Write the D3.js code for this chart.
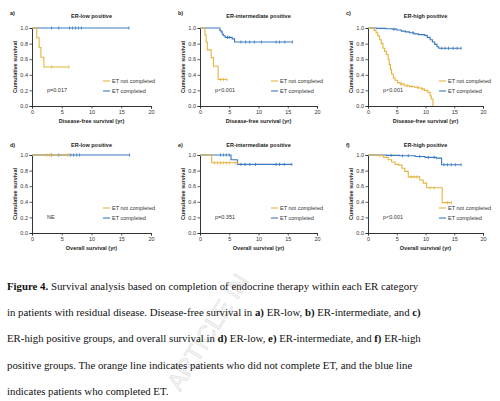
<!DOCTYPE html>
<html>
<head>
<meta charset="utf-8">
<script src="https://cdn.jsdelivr.net/npm/d3@7"></script>
<style>
  body { margin: 0; background: #fff; }
  svg { display: block; }
</style>
</head>
<body>
<div id="plot"></div>
<script>
// Axis ticks and labels
var xTicks = [0, 5, 10, 15, 20];
var yTicks = [0, 0.2, 0.4, 0.6, 0.8, 1.0];
var panelLabels = ["a)", "b)", "c)", "d)", "e)", "f)"];
var panelTitles = ["ER-low positive", "ER-intermediate positive", "ER-high positive",
                   "ER-low positive", "ER-intermediate positive", "ER-high positive"];
var xLabels = ["Disease-free survival (yr)", "Disease-free survival (yr)", "Disease-free survival (yr)",
               "Overall survival (yr)", "Overall survival (yr)", "Overall survival (yr)"];
var pValues = ["p=0.017", "p<0.001", "p<0.001", "NE", "p=0.351", "p<0.001"];
var seriesNames = ["ET not completed", "ET completed"];

// Kaplan-Meier steps: time (yr), survival, censor times
// a) DFS ER-low
var aNotT = [0, 0.8, 1.2, 1.5, 2.0, 6.2];
var aNotS = [1, 0.875, 0.75, 0.625, 0.5, 0.5];
var aNotC = [3.3, 6.2];
var aDoneT = [0, 16.3];
var aDoneS = [1, 1];
var aDoneC = [3.3, 4.5, 6.3, 6.8, 7.3, 7.8, 8.3, 16.3];
// b) DFS ER-intermediate
var bNotT = [0, 0.85, 1.05, 1.25, 1.9, 2.3, 3.1, 4.6];
var bNotS = [1, 0.91, 0.82, 0.72, 0.62, 0.51, 0.34, 0.34];
var bNotC = [3.5, 4.0, 4.6];
var bDoneT = [0, 3.4, 3.6, 3.8, 4.0, 4.3, 5.5, 5.9, 15.8];
var bDoneS = [1, 0.97, 0.95, 0.92, 0.90, 0.88, 0.86, 0.82, 0.82];
var bDoneC = [4.7, 5.0, 7.0, 7.8, 8.5, 9.3, 10.5, 13.0, 13.6, 14.5, 15.8];
// c) DFS ER-high
var cNotT = [0, 0.8, 1.1, 1.4, 1.7, 2.0, 2.3, 2.6, 2.9, 3.2, 3.5, 3.7, 3.9, 4.1, 4.4, 4.7, 5.1, 5.6,
             6.3, 7.2, 8.1, 8.8, 9.3, 9.8, 10.4, 10.8, 11.0, 11.3];
var cNotS = [1, 0.99, 0.97, 0.94, 0.90, 0.85, 0.80, 0.74, 0.70, 0.66, 0.60, 0.53, 0.47, 0.41, 0.36, 0.33, 0.30, 0.28,
             0.26, 0.25, 0.24, 0.23, 0.22, 0.20, 0.175, 0.13, 0.09, 0.0];
var cNotC = [5.8, 6.8, 7.6, 8.6, 9.4];
var cDoneT = [0, 1.5, 3.0, 4.2, 5.0, 5.8, 6.5, 7.2, 8.0, 8.8, 9.8, 10.3, 10.8, 11.2, 11.6, 12.0, 12.3, 16.2];
var cDoneS = [1, 0.995, 0.99, 0.985, 0.975, 0.96, 0.95, 0.94, 0.925, 0.915, 0.905, 0.88, 0.85, 0.82, 0.79, 0.76, 0.74, 0.74];
var cDoneC = [4.5, 7.8, 12.8, 13.4, 14.0, 14.8, 15.5, 16.2];
// d) OS ER-low
var dNotT = [0, 6.2];
var dNotS = [1, 1];
var dNotC = [2.5, 3.0, 3.3, 6.0, 6.2];
var dDoneT = [0, 16.4];
var dDoneS = [1, 1];
var dDoneC = [3.3, 4.5, 6.5, 7.0, 7.5, 8.0, 16.4];
// e) OS ER-intermediate
var eNotT = [0, 2.0, 6.5];
var eNotS = [1, 0.9, 0.9];
var eNotC = [2.5, 3.0, 3.5, 4.0, 4.5, 5.0, 6.0, 6.5];
var eDoneT = [0, 5.3, 6.4, 15.7];
var eDoneS = [1, 0.94, 0.88, 0.88];
var eDoneC = [3.5, 4.0, 4.5, 5.0, 7.0, 7.7, 8.5, 9.5, 13.0, 13.6, 14.4, 15.7];
// f) OS ER-high
var fNotT = [0, 1.8, 2.7, 3.5, 4.1, 4.7, 5.3, 5.9, 6.4, 7.0, 9.0, 9.6, 10.2, 12.9, 14.5];
var fNotS = [1, 0.99, 0.97, 0.94, 0.91, 0.88, 0.87, 0.83, 0.79, 0.72, 0.68, 0.64, 0.58, 0.39, 0.39];
var fNotC = [7.5, 8.0, 8.5, 10.8, 11.5, 13.8, 14.5];
var fDoneT = [0, 3.2, 5.5, 8.2, 9.9, 11.9, 12.8, 16.2];
var fDoneS = [1, 0.995, 0.99, 0.98, 0.97, 0.96, 0.875, 0.875];
var fDoneC = [4.0, 6.0, 7.0, 9.0, 10.5, 11.5, 13.2, 13.8, 14.5, 15.2, 16.2];

var notData = [[aNotT, aNotS, aNotC], [bNotT, bNotS, bNotC], [cNotT, cNotS, cNotC],
               [dNotT, dNotS, dNotC], [eNotT, eNotS, eNotC], [fNotT, fNotS, fNotC]];
var doneData = [[aDoneT, aDoneS, aDoneC], [bDoneT, bDoneS, bDoneC], [cDoneT, cDoneS, cDoneC],
                [dDoneT, dDoneS, dDoneC], [eDoneT, eDoneS, eDoneC], [fDoneT, fDoneS, fDoneC]];

var orange = "#e6b33e", blue = "#3a78c2";

var svg = d3.select("#plot")
    .append("svg")
        .attr("width", 500)
        .attr("height", 401)
        .style("font-family", "Liberation Sans, Arial, sans-serif");

svg.append("rect").attr("width", 500).attr("height", 401).attr("fill", "#fff");

// Panel layout
var colLeft = [32, 200, 368];
var colWidth = [119, 117, 115];
var rowTop = [28, 155];
var plotH = 78;

function stepValue(ts, ss, t) {
    var v = ss[0];
    for (var i = 0; i < ts.length; i++) { if (ts[i] <= t) v = ss[i]; }
    return v;
}

panelTitles.forEach(function(title, i) {
    var col = i % 3, row = Math.floor(i / 3);
    var left = colLeft[col], top = rowTop[row], w = colWidth[col];
    var g = svg.append("g").attr("transform", "translate(" + left + "," + top + ")");

    var x = d3.scaleLinear().domain([0, 20]).range([0, w]);
    var y = d3.scaleLinear().domain([0, 1]).range([plotH, 0]);

    // Panel label and title
    svg.append("text")
        .attr("x", left - 22).attr("y", row === 0 ? top - 13 : top - 8)
        .style("font-size", "5.5px").style("font-weight", "bold").attr("fill", "#222")
        .text(panelLabels[i]);
    g.append("text")
        .attr("x", w / 2).attr("y", row === 0 ? -10 : -8.5)
        .attr("text-anchor", "middle")
        .style("font-size", "5.5px").style("font-weight", "bold").attr("fill", "#222")
        .text(title);

    // Axes
    var xAxis = g.append("g")
        .attr("transform", "translate(0," + plotH + ")")
        .call(d3.axisBottom(x).tickValues(xTicks).tickSize(2.5).tickPadding(1.5).tickFormat(d3.format("d")));
    var yAxis = g.append("g")
        .call(d3.axisLeft(y).tickValues(yTicks).tickSize(2.5).tickPadding(1.5).tickFormat(d3.format(".1f")));
    [xAxis, yAxis].forEach(function(a) {
        a.select(".domain").attr("stroke", "#333").attr("stroke-width", 1);
        a.selectAll(".tick line").attr("stroke", "#333").attr("stroke-width", 0.8);
        a.selectAll("text").style("font-size", "5.5px").style("font-family", "Liberation Sans, Arial, sans-serif")
            .attr("fill", "#333");
    });

    // Axis titles
    g.append("text")
        .attr("transform", "rotate(-90)")
        .attr("x", -plotH / 2).attr("y", -15)
        .attr("text-anchor", "middle")
        .style("font-size", "5.5px").style("font-weight", "bold").attr("fill", "#222")
        .text("Cumulative survival");
    g.append("text")
        .attr("x", w / 2).attr("y", plotH + 17)
        .attr("text-anchor", "middle")
        .style("font-size", "5.5px").style("font-weight", "bold").attr("fill", "#222")
        .text(xLabels[i]);

    // Curves
    var line = d3.line()
        .x(function(d) { return x(d[0]); })
        .y(function(d) { return y(d[1]); })
        .curve(d3.curveStepAfter);

    [[doneData[i], blue], [notData[i], orange]].forEach(function(s) {
        var ts = s[0][0], ss = s[0][1], cs = s[0][2];
        var pts = ts.map(function(t, k) { return [t, ss[k]]; });
        g.append("path")
            .datum(pts)
            .attr("fill", "none")
            .attr("stroke", s[1])
            .attr("stroke-width", 1.1)
            .attr("d", line);
        g.selectAll(null)
            .data(cs)
            .enter().append("line")
                .attr("x1", function(t) { return x(t); })
                .attr("x2", function(t) { return x(t); })
                .attr("y1", function(t) { return y(stepValue(ts, ss, t)) - 1.6; })
                .attr("y2", function(t) { return y(stepValue(ts, ss, t)) + 1.6; })
                .attr("stroke", s[1])
                .attr("stroke-width", 0.8);
    });

    // Legend
    var legY = [53, 63];
    [orange, blue].forEach(function(c, k) {
        g.append("line")
            .attr("x1", 71).attr("x2", 78)
            .attr("y1", legY[k]).attr("y2", legY[k])
            .attr("stroke", c).attr("stroke-width", 1.1);
        g.append("text")
            .attr("x", 80).attr("y", legY[k] + 2)
            .style("font-size", "5.5px").attr("fill", "#333")
            .text(seriesNames[k]);
    });

    // p value
    g.append("text")
        .attr("x", 15).attr("y", 64)
        .style("font-size", "5.5px").attr("fill", "#333")
        .text(pValues[i]);
});

// Watermark
svg.append("text")
    .attr("transform", "translate(180,392) rotate(-58)")
    .style("font-size", "24px")
    .style("font-family", "Liberation Sans, Arial, sans-serif")
    .attr("fill", "#f6f6f6")
    .attr("stroke", "#d8d8d8")
    .attr("stroke-width", 0.5)
    .text("ARTICLE IN");

// Caption
var captionLines = [
    [["Figure 4.", true], [" Survival analysis based on completion of endocrine therapy within each ER category", false]],
    [["in patients with residual disease. Disease-free survival in ", false], ["a)", true], [" ER-low, ", false],
     ["b)", true], [" ER-intermediate, and ", false], ["c)", true]],
    [["ER-high positive groups, and overall survival in ", false], ["d)", true], [" ER-low, ", false],
     ["e)", true], [" ER-intermediate, and ", false], ["f)", true], [" ER-high", false]],
    [["positive groups. The orange line indicates patients who did not complete ET, and the blue line", false]],
    [["indicates patients who completed ET.", false]]
];
var captionY = [290, 316, 342, 368.5, 395];

captionLines.forEach(function(parts, i) {
    var t = svg.append("text")
        .attr("x", 7).attr("y", captionY[i])
        .style("font-family", "Liberation Serif, Times New Roman, serif")
        .style("font-size", "10.8px")
        .attr("fill", "#111");
    parts.forEach(function(p) {
        t.append("tspan")
            .style("font-weight", p[1] ? "bold" : "normal")
            .attr("xml:space", "preserve")
            .text(p[0]);
    });
});
</script>
</body>
</html>
